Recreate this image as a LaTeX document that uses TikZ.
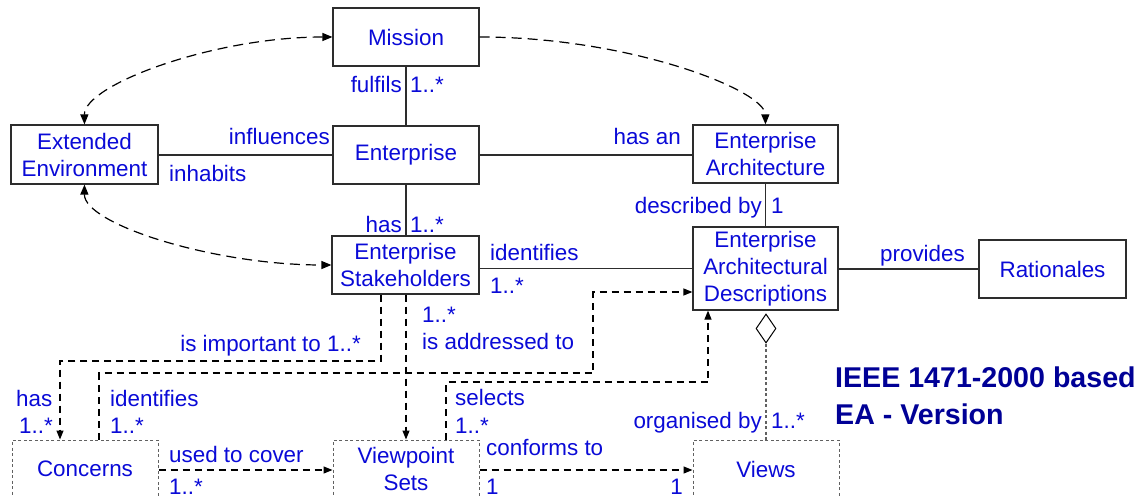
\documentclass[tikz,border=0pt]{standalone}
\usepackage{fontspec}
\setmainfont{Liberation Sans}
\usetikzlibrary{arrows.meta,shapes.geometric}
\definecolor{txt}{RGB}{10,10,215}
\definecolor{ttl}{RGB}{0,0,150}
\definecolor{ln}{RGB}{45,45,45}
\begin{document}
\begin{tikzpicture}[x=1pt,y=-1pt,
  every node/.style={font=\fontsize{22.4}{27}\selectfont, text=txt, inner sep=0pt},
  box/.style={draw=ln, line width=1.2pt, align=center, minimum width=146pt, minimum height=58pt},
  dbox/.style={draw=ln!75, line width=1pt, dash pattern=on 3pt off 2.5pt, align=center, minimum width=146pt, minimum height=58pt},
  assoc/.style={draw=ln, line width=1.2pt},
  dsh/.style={draw=black, line width=1.2pt, dash pattern=on 7pt off 5pt},
  crv/.style={draw=black, line width=1.2pt, dash pattern=on 10pt off 6pt},
  dotln/.style={draw=ln!75, line width=1.2pt, dash pattern=on 3pt off 2.5pt},
  tip/.style={-{Triangle[length=10pt,width=8pt]}},
  stip/.style={-{Triangle[length=9pt,width=7pt]}},
  lw/.style={anchor=base west},
  le/.style={anchor=base east}
]
\useasboundingbox (0,0) rectangle (1145,497);

% boxes
\node[box] (mission) at (406,37) {Mission};
\node[box] (ent) at (406,155) {Enterprise};
\node[box, minimum width=147pt, minimum height=59pt] (ee) at (84.5,154.5) {Extended\\Environment};
\node[box, minimum width=145pt] (ea) at (765.5,154) {Enterprise\\Architecture};
\node[box, minimum width=147pt] (stake) at (405.5,265) {Enterprise\\Stakeholders};
\node[box, minimum width=145pt, minimum height=83pt] (ead) at (765.5,268.5) {Enterprise\\Architectural\\Descriptions};
\node[box, minimum width=147pt] (rat) at (1052.5,269) {Rationales};
\node[dbox] (conc) at (85,469) {Concerns};
\node[dbox] (vs) at (406,469) {Viewpoint\\Sets};
\node[dbox] (views) at (766,469) {Views};
\node[draw=black, line width=1pt, shape=diamond, minimum width=20pt, minimum height=29pt] (dia) at (766,328.5) {};

% title
\node[anchor=base west, text=ttl, font=\fontsize{28.6}{37}\selectfont\bfseries] (title1) at (835,387) {IEEE 1471-2000 based};
\node[anchor=base west, text=ttl, font=\fontsize{28.6}{37}\selectfont\bfseries] (title2) at (835,424) {EA - Version};

% solid associations
\draw[assoc] (mission.south) -- (ent.north);
\draw[assoc] (ee.east |- ent.west) -- (ent.west);
\draw[assoc] (ent.east) -- (ent.east -| ea.west);
\draw[assoc] (ent.south) -- (stake.north -| ent.south);
\draw[assoc] (ea.south) -- (ead.north);
\draw[assoc] (stake.east |- ead.west) -- (ead.west);
\draw[assoc] (ead.east |- rat.west) -- (rat.west);

% curved dependencies
\draw[crv, {Triangle[length=10pt,width=8pt]}-{Triangle[length=10pt,width=8pt]}] (mission.west) .. controls (213,37) and (84,85) .. (ee.north);
\draw[crv, {Triangle[length=10pt,width=8pt]}-{Triangle[length=10pt,width=8pt]}] (ee.south) .. controls (84,224) and (213,265) .. (stake.west);
\draw[crv, tip] (mission.east) .. controls (629,37) and (765,90) .. (ea.north);

% orthogonal dashed dependencies
\coordinate (a1) at (381,361);
\coordinate (a2) at (60,361);
\draw[dsh, stip] (stake.south -| a1) -- (a1) -- (a2) -- (a2 |- conc.north);

\coordinate (b1) at (99,373);
\coordinate (b2) at (593,292);
\draw[dsh, stip] (conc.north -| b1) -- (b1) -- (b1 -| b2) -- (b2) -- (ead.west |- b2);

\draw[dsh, stip] (stake.south -| vs.north) -- (vs.north);

\coordinate (c1) at (446,382);
\coordinate (c2) at (708,382);
\draw[dsh, stip] (vs.north -| c1) -- (c1) -- (c2) -- (c2 |- ead.south);

\draw[dsh, stip] (conc.east |- 0,470) -- (vs.west |- 0,470);
\draw[dsh, stip] (vs.east |- 0,470) -- (views.west |- 0,470);

\draw[dotln] (dia.south) -- (views.north);

% labels
\node[le] (l1) at (402,93) {fulfils};
\node[lw] (l2) at (410,93) {1..*};
\node[le] (l3) at (402,232) {has};
\node[lw] (l4) at (410,232) {1..*};
\node[le] (l5) at (330,145) {influences};
\node[lw] (l6) at (169,182) {inhabits};
\node[le] (l7) at (681,145) {has an};
\node[le] (l8) at (762,213) {described by};
\node[lw] (l9) at (771,213) {1};
\node[lw] (l10) at (490,260) {identifies};
\node[lw] (l11) at (490,293) {1..*};
\node[le] (l12) at (965,261) {provides};
\node[le] (l13) at (361,351) {is important to 1..*};
\node[lw] (l14) at (16,406) {has};
\node[lw] (l15) at (19,433) {1..*};
\node[lw] (l16) at (110,406) {identifies};
\node[lw] (l17) at (110,433) {1..*};
\node[lw] (l18) at (422,322) {1..*};
\node[lw] (l19) at (422,349) {is addressed to};
\node[lw] (l20) at (455,405) {selects};
\node[lw] (l21) at (455,433) {1..*};
\node[lw] (l22) at (169,462) {used to cover};
\node[lw] (l23) at (169,494) {1..*};
\node[lw] (l24) at (486,455) {conforms to};
\node[lw] (l25) at (486,494) {1};
\node[le] (l26) at (683,494) {1};
\node[le] (l27) at (762,428) {organised by};
\node[lw] (l28) at (771,428) {1..*};
\end{tikzpicture}
\end{document}
